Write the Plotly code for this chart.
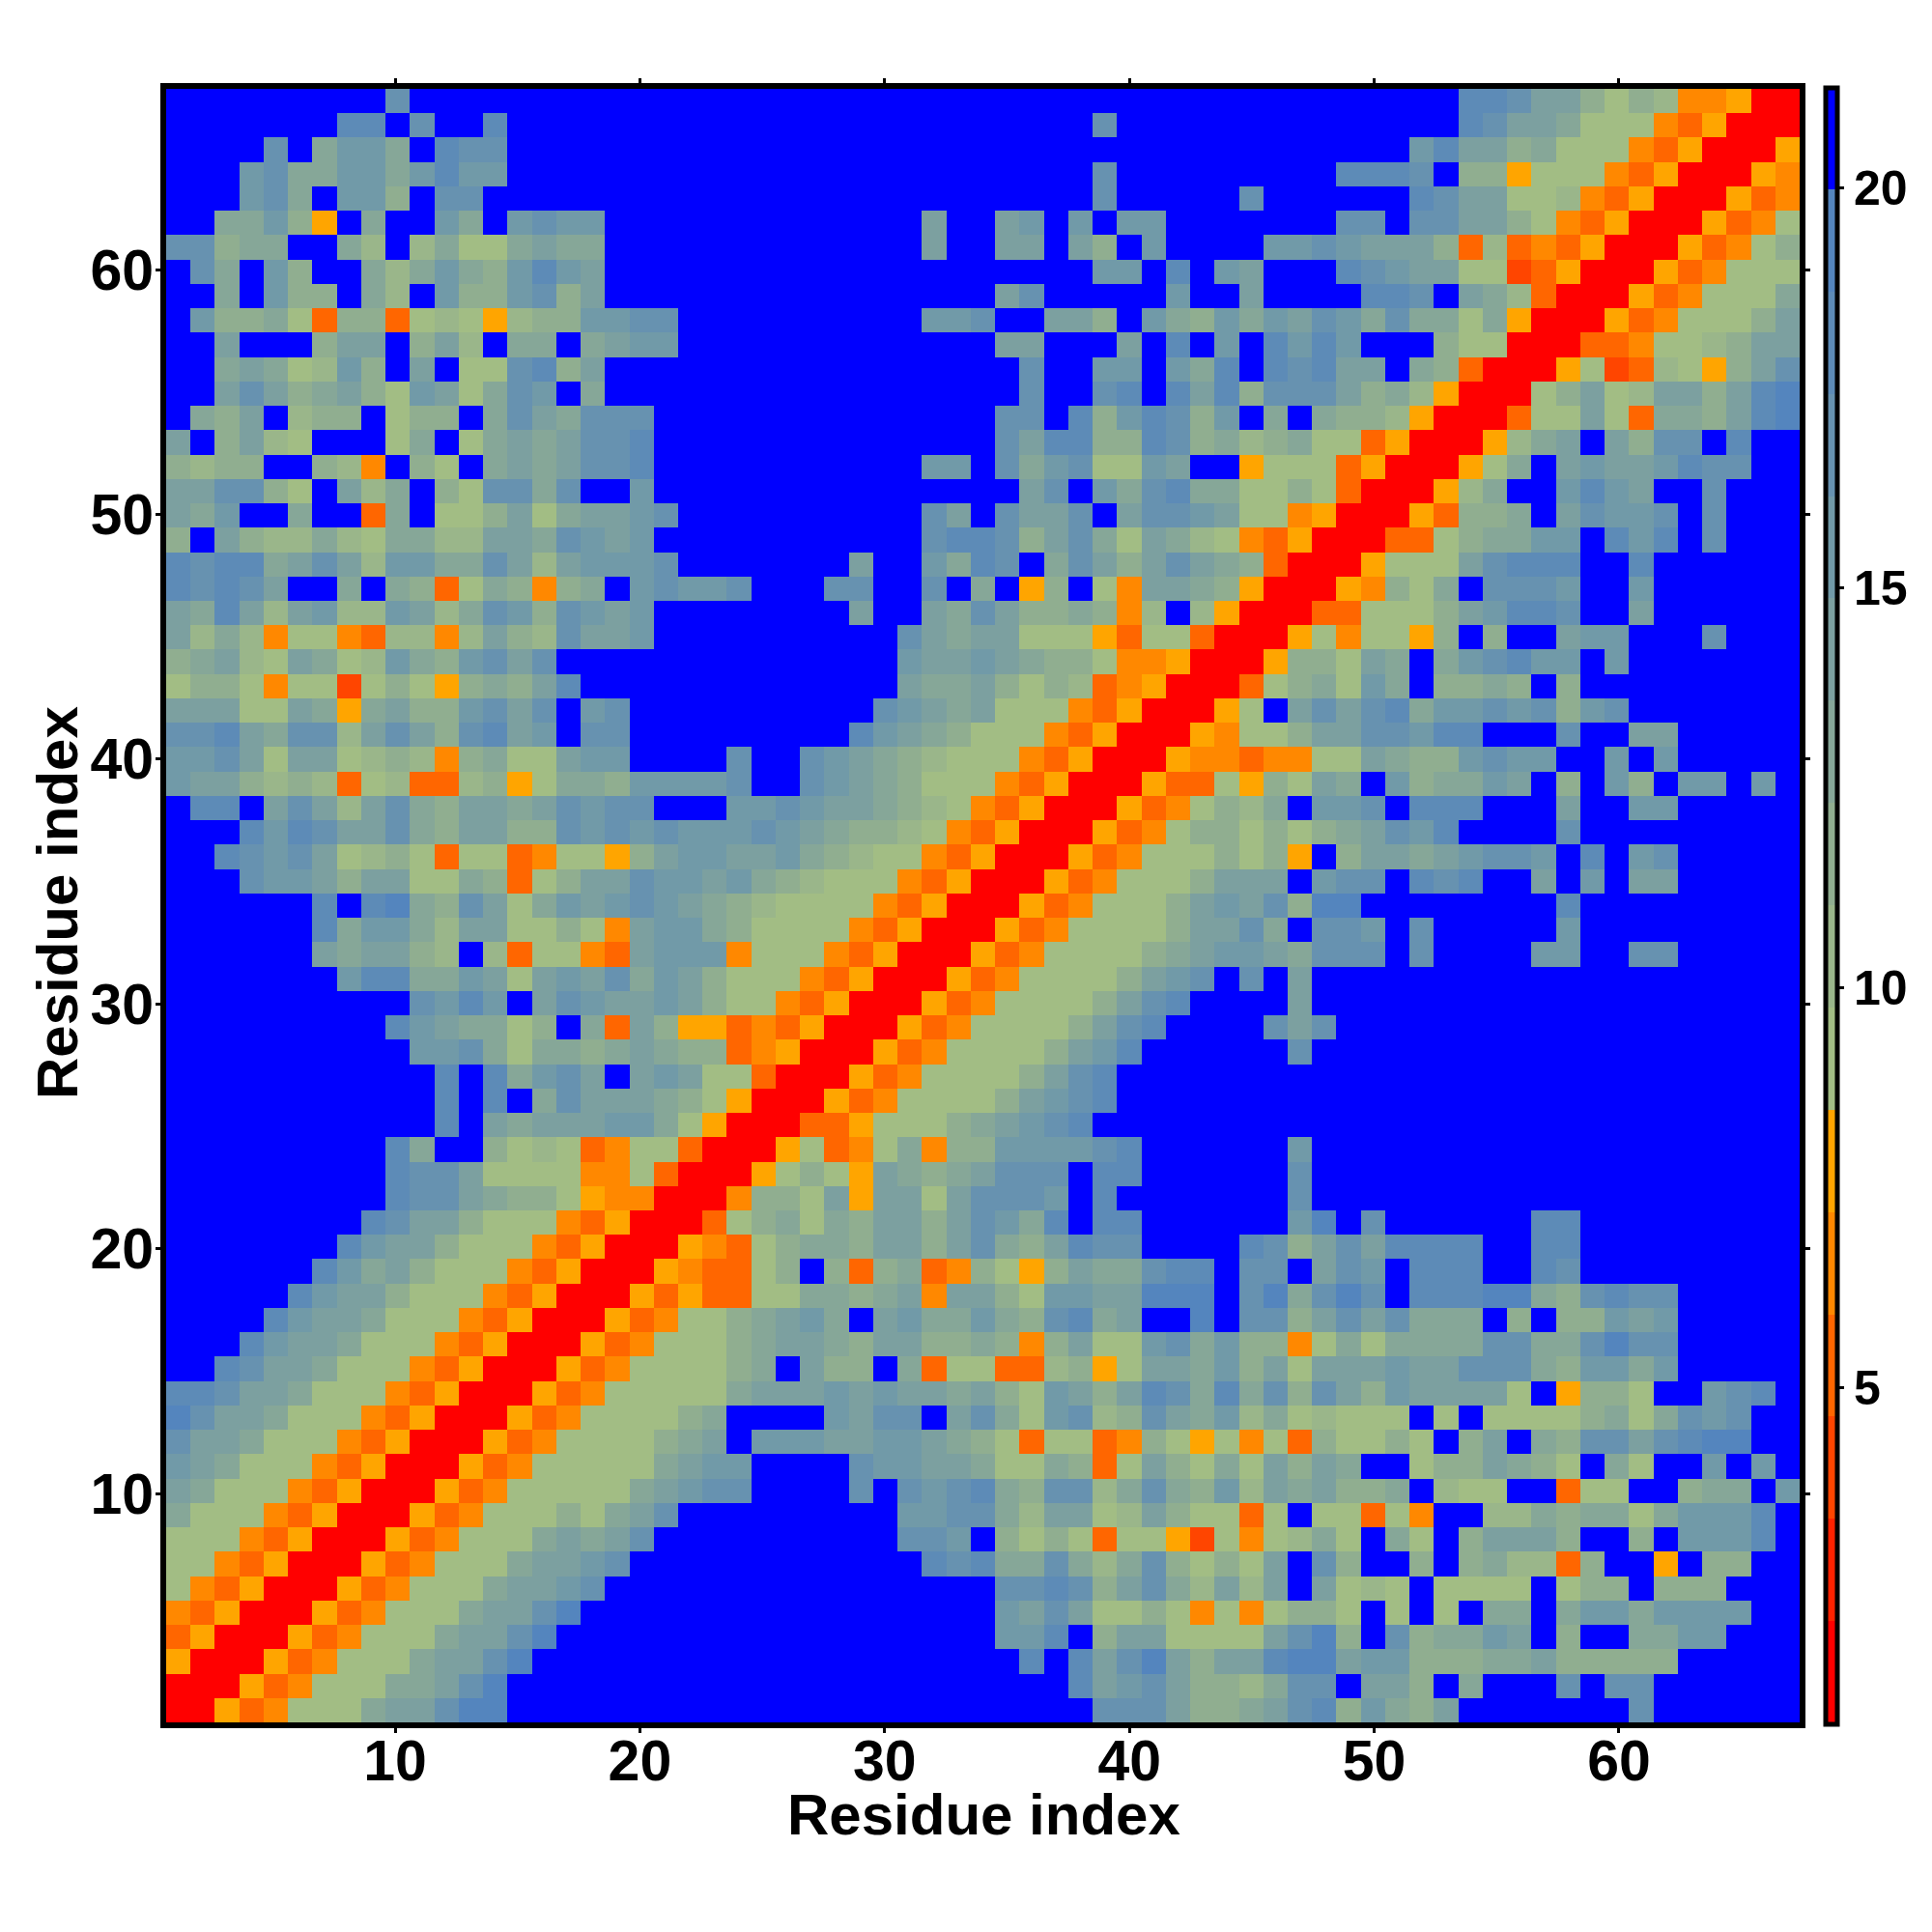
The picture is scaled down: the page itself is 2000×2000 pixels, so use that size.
import plotly.graph_objects as go

# Each string is one residue row (left to right, residues 1..67); one letter = one colour band of the map.
row_67 = "BBBBBBBBBg BBBBBBBBBB BBBBBBBBBB BBBBBBBBBB BBBBBBBBBB BBBhhgeeca cbOOYRR"
row_66 = "BBBBBBBhhB gBBhBBBBBB BBBBBBBBBB BBBBBBBBgB BBBBBBBBBB BBBhgeedaa aODYRRR"
row_65 = "BBBBgBdffd BhggBBBBBB BBBBBBBBBB BBBBBBBBBB BBBBBBBBBB Bfheecdaaa ODYRRRY"
row_64 = "BBBfgddffd fhffBBBBBB BBBBBBBBBB BBBBBBBBgB BBBBBBBBhh hgBccYaaaO DYRRRYO"
row_63 = "BBBfgdBffc BggBBBBBBB BBBBBBBBBB BBBBBBBBgB BBBBgBBBBB BhgeeaabOD YRRRYDO"
row_62 = "BBddfcYBdB BfdBfgffBB BBBBBBBBBB BeBBefBfBf fBBBBBBBgg BggeecaODY RRRYDOa"
row_61 = "ggcddBBdbB bdaadeddBB BBBBBBBBBB BeBBeeBecB fBBBBffgfe eecDbDODYR RRYDOac"
row_60 = "BgdBfcBBdb dfdcfhfeBB BBBBBBBBBB BBBBBBBBff BhBfeBBBhg feeaaSDYRR RYDOaaa"
row_59 = "BBdBfccBdb BfccfgceBB BBBBBBBBBB BBBBegBBBB BfBBeBBBBh hgBedbDRRR YDOaaad"
row_58 = "BfccdaDccD abaYbccffg gBBBBBBBBB BffgBBeecB fdcfdfegfd gddadYRRRY DOaaace"
row_57 = "BBeBBBceeB cebBddBdef fBBBBBBBBB BBBBeeBBBe BhBfBhfhfB BBcaaRRRDD Oaabcee"
row_56 = "BBdedabfcB eBaaghceBB BBBBBBBBBB BBBBBgBBff BfdhBhghee BdcDRRRYaS DbaYceg"
row_55 = "BBegecdeca feadgfBdBB BBBBBBBBBB BBBBBgBBgh Bhehcgggec dbYRRRacea beecehi"
row_54 = "BdceBbccBa ccBdgedggg BBBBBBBBBB BBBBggBhcf hgcfBdBdcc bYRRRDaaea Dddcehi"
row_53 = "eBcebaBBBa dBadedeggh BBBBBBBBBB BBBBgehhcc hgcdbcdaaD YRRRYbdeBe cggBhBB"
row_52 = "cbccBBcbOB caBdedeggh BBBBBBBBBB BffBgdfgaa feBBYaaaDY RRRYadBefe efhggBB"
row_51 = "eeggcaBebd BcaggdgBBf BBBBBBBBBB BBBBBegBfd ghddaacaDR RRYbdBBfhf eBBgBBB"
row_50 = "edfBBdBBDd Baaceadeef gBBBBBBBBB BgeBgeegBe ggfeaaOYRR RYDccdBegf fgBgBBB"
row_49 = "cBecbbdbad dbbeedgfef BBBBBBBBBB Bghhgcegda edbaODYRRR DDacddffBh fhBgBBB"
row_48 = "hghhdegebf fddgebefff gBBBBBBBeB BfdhgBdgec egedcDRRRY aaaeghhhBB hBBBBBB"
row_47 = "hghgeBBdBd cDadcOcdBf gffgBBBggB BgBdBYcBaO eedcYRRRYO cadBgggfBB fBBBBBB"
row_46 = "edhebefbbf ebdgfcgfef BBBBBBBBeB BedgeccdcO bBbYRRRDDa aacefhhgBB eBBBBBB"
row_45 = "ebdbOaaODb bObecbgeef BBBBBBBBBB gedeeaaaYD aaDRRRYaOa aYcBcBBeff BBBgBBB"
row_44 = "cdebaedabf dcfgegBBBB BBBBBBBBBB feefedccaO OYRRRYccae dBdfghffBf BBBBBBB"
row_43 = "accaOaaSac aYcdcehBBB BBBBBBBBBB eddecacbDO YRRRDacdaf dBccdcBcBB BBBBBBB"
row_42 = "eeeaaedYde ccfgegBfgB BBBBBBBBBg fedeaaaODY RRRYaBegeg hdffgfgcfg BBBBBBB"
row_41 = "gghedggbeg ecghefBggB BBBBBBBBhf edcaaaODYR RRYOaaceeg gfhhBBBgBB eeBBBBB"
row_40 = "ffgeaeeabc bOcdaaeffB BBBgBBgfed cbaaaODYRR RYOODOOaae dccfgffBBf BfBBBBB"
row_39 = "feecbcbDab DDbcYaddcf fffgBBgfed caaaODYRRR YDDaYcaedB fcddfeBcBf cBffBfB"
row_38 = "BhhBegebeg dceedegfgg BBBffgfeed cbaODYRRRY DOacbdBffg BhhhBBBeBB ffBBBBB"
row_37 = "BBBhfhgeeg dceeccgfgf gfffgfedcc baODYRRRYD Oaccacacde gfhBBBBgBB BBBBBBB"
row_36 = "BBhgfgeabc aDaaDOaaYc effeefdcba aODYRRRYDO aaacacYBce edefggfBhB fgBBBBB"
row_35 = "BBBgffecee aadcDaceeg ffefdcbaaa ODYRRRYDOa aaceeeBfgg BhghBBeBfB eeBBBBB"
row_34 = "BBBBBBhBhi dcgeadfefg fedcbaaaaO DYRRRYDOaa acefegciiB BBBBBBBhBB BBBBBBB"
row_33 = "BBBBBBhdff dbeeaacaOe ffdcaaaaOD YRRRYDOaaa aceegdBggf BgBBBBBfBB BBBBBBB"
row_32 = "BBBBBBedee cbBbDaaODe fffOaaaODY RRRYDOaaaa cdeffedggg BgBBBBffBB ggBBBBB"
row_31 = "BBBBBBBfhh ddfeaefegd fecaaaODYR RRYDOaaaac efgBgBeBBB BBBBBBBBBB BBBBBBB"
row_30 = "BBBBBBBBBB gfhfBegfee fecaaODYRR RYDOaaaace ghBBBBeBBB BBBBBBBBBB BBBBBBB"
row_29 = "BBBBBBBBBh feddacBdDe cYYDODYRRR YDOaaaaceg hBBBBgegBB BBBBBBBBBB BBBBBBB"
row_28 = "BBBBBBBBBB ffgdaddcde dccDOYRRRY DOaaaacefh BBBBBBgBBB BBBBBBBBBB BBBBBBB"
row_27 = "BBBBBBBBBB BhBhdfgeBe feaaDRRRYD OaaaaceghB BBBBBBBBBB BBBBBBBBBB BBBBBBB"
row_26 = "BBBBBBBBBB BhBhBdgeee dcaYRRRYDO aaaacefghB BBBBBBBBBB BBBBBBBBBB BBBBBBB"
row_25 = "BBBBBBBBBB BhBedeeeff daYRRRDDYa aacdefghBB BBBBBBBBBB BBBBBBBBBB BBBBBBB"
row_24 = "BBBBBBBBBh dBBcabaDOa aDRRRYaDOa dOccffffgh BBBBBBfBBB BBBBBBBBBB BBBBBBB"
row_23 = "BBBBBBBBBh ggeaaaaOOa DRRRYacaYe dcdegggBhh BBBBBBgBBB BBBBBBBBBB BBBBBBB"
row_22 = "BBBBBBBBBh ggedccaYOO RRROccaeYe eaegggfBhB BBBBBBgBBB BBBBBBBBBB BBBBBBB"
row_21 = "BBBBBBBBhg eecaaaODYR RRDacdadce ecegfdhBhh BBBBBBfiBg BBBBBBhhBB BBBBBBB"
row_20 = "BBBBBBBhfe ecaaaODYRR RYODacddce ecegdcehgg BBBBhgcege hhhhBBhhBB BBBBBBB"
row_19 = "BBBBBBhfde caaaODYRRR YODDacBcDc dDOcaYcedd ghhBggBegf BhhhBBhgBB BBBBBBB"
row_18 = "BBBBBhfeec aaaODYRRRY DYDDaaddcd eOeecaffee iiiBgidgig Bhhhiidcgh ggBBBBB"
row_17 = "BBBBhfeeda aaODYRRRYD OaacdefdBe fddfdcghde BBiBggcege gdddBcBccf efBBBBB"
row_16 = "BBBhfeedaa aODYRRRYDO aaacdeedce eccdcOceaa fgdfccOada ddddggddgi ggBBBBB"
row_15 = "BBhgeedaaa ODYRRRYDOa aaacdBeccB dDaaDDbcYa eedfceaeee feegggdcff dfBBBBB"
row_14 = "hhgeedaaaO DYRRRYDOaa aaadeeefef eedecafece hgdhdgcgec feeeeaBYcc aBBfghB"
row_13 = "igeedaaaOD YRRRYDOaaa acdBBBBfeg gBegdafgbc gedfbdabaa aBaBaaaacd adgfgBB"
row_12 = "geedaaaODY RRRYDOaaaa cdeBfffeef fedcaDaaDO caYaOaDcaa caBceBdcgg eghiiBB"
row_11 = "fedaaaODYR RRYDOaaaaa deffBBBBgf feedaadcDa ecadaecedB BaccedcaBd aBBfBfB"
row_10 = "edaaaODYRR RYDOaaaaad efggBBBBgB gfghdcggbd gdcfbedecc dBbaaBBDaa BBcddBf"
row_09 = "daaaODYRRR YDOaaacade gBBBBBBBBB ffggdbeeab ecaaDaBaaD aOBBbbdcdd adfffhB"
row_08 = "aaaODYRRRY DOaaadedeg BBBBBBBBBB ggfBcacaDa aYSaOabdaB daBceeecBB cBfffhB"
row_07 = "aaODYRRRYD OaaadeefgB BBBBBBBBBB Bhghddgdbd gcacaeBgcB BcBcdbbDcB BYBccBB"
row_06 = "aODYRRRYDO aaadeefgBB BBBBBBBBBB BBBBgghgce gdbebeBeab aBaaaaBacc BcccBBB"
row_05 = "ODYRRRYDOa aadeegiBBB BBBBBBBBBB BBBBfegeaa caOaOaccaB aBaBddBdff dffffBB"
row_04 = "DYRRRYDOaa adeegiBBBB BBBBBBBBBB BBBBffhBce eaaaaegicB gcddfeBcBB ddffBBB"
row_03 = "YRRRYDOaaa deegiBBBBB BBBBBBBBBB BBBBBhBheg ieceehiief fcccddeccc ccBBBBB"
row_02 = "RRRYDOaaad degiBBBBBB BBBBBBBBBB BBBBBBBhef geccbdggBe ecBdBBBgBg gBBBBBB"
row_01 = "RRYDOaaade egiiBBBBBB BBBBBBBBBB BBBBBBBBgg geccdeghcf dceBBBBBBB gBBBBBB"

rows_bottom_up = [
    row_01, row_02, row_03, row_04, row_05, row_06, row_07, row_08, row_09, row_10,
    row_11, row_12, row_13, row_14, row_15, row_16, row_17, row_18, row_19, row_20,
    row_21, row_22, row_23, row_24, row_25, row_26, row_27, row_28, row_29, row_30,
    row_31, row_32, row_33, row_34, row_35, row_36, row_37, row_38, row_39, row_40,
    row_41, row_42, row_43, row_44, row_45, row_46, row_47, row_48, row_49, row_50,
    row_51, row_52, row_53, row_54, row_55, row_56, row_57, row_58, row_59, row_60,
    row_61, row_62, row_63, row_64, row_65, row_66, row_67,
]

band_codes = ["R", "r", "S", "D", "O", "Y", "a", "b", "c", "d", "e", "f", "g", "h", "i", "B"]
band_colors = ["#ff0000", "#ff2200", "#ff4500", "#ff6600", "#ff8800", "#ffa500",
               "#a2bd84", "#9ab68a", "#90ae90", "#86a798", "#7ca0a0",
               "#719aa8", "#6792b0", "#5d8bb7", "#5485be", "#0000ff"]
scale_min = 0.80
scale_max = 21.26
tick_values = [10, 20, 30, 40, 50, 60]
bar_ticks = [5, 10, 15, 20]
axis_title = "Residue index"

band_width = (scale_max - scale_min) / len(band_codes)
z = []
for row in rows_bottom_up:
    cells = row.replace(" ", "")
    assert len(cells) == 67, (row, len(cells))
    z.append([scale_min + (band_codes.index(ch) + 0.5) * band_width for ch in cells])

stops = []
for k, col in enumerate(band_colors):
    stops.append([k / len(band_colors), col])
    stops.append([(k + 1) / len(band_colors), col])

bold = dict(family="Liberation Sans", color="black", weight=700)
x_range = [0.647, 67.38]
cell = (x_range[1] - x_range[0]) / 67

fig = go.Figure(go.Heatmap(
    z=z, x0=x_range[0] + cell / 2, dx=cell, y0=x_range[0] + cell / 2, dy=cell,
    zmin=scale_min, zmax=scale_max, colorscale=stops, zsmooth=False, hoverongaps=False,
    colorbar=dict(
        x=1.0157, xanchor="left", xpad=0, y=0.5, yanchor="middle", ypad=0, len=1.002,
        thickness=12, thicknessmode="pixels", outlinewidth=5, outlinecolor="black",
        borderwidth=0, tickmode="array", tickvals=bar_ticks, ticks="outside",
        ticklen=5, tickwidth=3, tickcolor="black", tickfont=dict(size=50, **bold),
    ),
))

axis = dict(
    range=x_range, tickmode="array", tickvals=tick_values, ticks="outside", ticklen=5,
    tickwidth=3, tickcolor="black", showline=True, linewidth=6, linecolor="black",
    mirror="ticks", showgrid=False, zeroline=False, tickfont=dict(size=59, **bold),
)
fig.update_layout(
    width=2000, height=2000, autosize=False,
    margin=dict(l=164, r=145, t=84, b=225, autoexpand=False),
    paper_bgcolor="white", plot_bgcolor="white",
    xaxis=dict(axis, ticklabelstandoff=-22),
    yaxis=dict(axis, ticklabelstandoff=-10),
    annotations=[
        dict(text=axis_title, xref="paper", yref="paper", x=0.5003, y=-0.0562,
             xanchor="center", yanchor="middle", showarrow=False, font=dict(size=60, **bold)),
        dict(text=axis_title, xref="paper", yref="paper", x=-0.0662, y=0.5015,
             xanchor="center", yanchor="middle", showarrow=False, textangle=-90,
             font=dict(size=60, **bold)),
    ],
)
fig.write_html("out.html")
